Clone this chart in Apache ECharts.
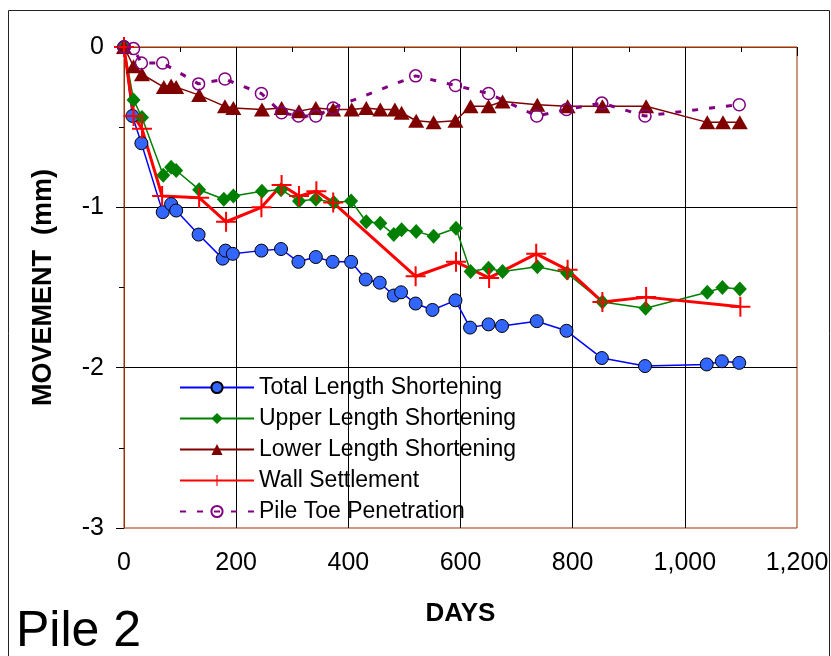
<!DOCTYPE html>
<html>
<head>
<meta charset="utf-8">
<script src="https://cdn.jsdelivr.net/npm/echarts@6/dist/echarts.min.js"></script>
<style>
  html, body { margin: 0; padding: 0; background: #fff; }
  #chart { width: 831px; height: 656px; }
</style>
</head>
<body>
<div id="chart"></div>
<script>
// readings taken off the plot, days vs movement (mm)
var totalDays = [0, 15, 31, 69, 84, 93, 133, 176, 181, 194, 245, 280, 311, 342, 372, 405, 431, 456, 481, 494, 520, 550, 591, 617, 650, 674, 736, 789, 852, 929, 1039, 1066, 1097];
var totalMove = [0, -0.43, -0.60, -1.03, -0.98, -1.02, -1.17, -1.32, -1.27, -1.29, -1.27, -1.26, -1.34, -1.31, -1.34, -1.34, -1.45, -1.47, -1.55, -1.53, -1.60, -1.64, -1.58, -1.75, -1.73, -1.74, -1.71, -1.77, -1.94, -1.99, -1.98, -1.96, -1.97];

var upperDays = [0, 17, 32, 70, 84, 93, 134, 178, 195, 246, 280, 312, 342, 374, 405, 432, 457, 481, 495, 521, 552, 592, 618, 650, 675, 737, 790, 853, 930, 1040, 1067, 1098];
var upperMove = [0, -0.33, -0.44, -0.80, -0.75, -0.77, -0.89, -0.95, -0.93, -0.90, -0.89, -0.96, -0.95, -0.97, -0.96, -1.09, -1.10, -1.17, -1.14, -1.15, -1.18, -1.13, -1.40, -1.38, -1.40, -1.37, -1.41, -1.59, -1.63, -1.53, -1.50, -1.51];

var lowerDays = [0, 17, 32, 71, 84, 93, 134, 180, 195, 246, 281, 312, 342, 373, 406, 432, 457, 483, 495, 521, 552, 591, 618, 650, 675, 737, 791, 853, 931, 1040, 1068, 1098];
var lowerMove = [0, -0.12, -0.17, -0.25, -0.24, -0.25, -0.30, -0.37, -0.38, -0.39, -0.38, -0.40, -0.38, -0.39, -0.39, -0.38, -0.39, -0.39, -0.41, -0.46, -0.47, -0.46, -0.37, -0.37, -0.34, -0.36, -0.37, -0.37, -0.37, -0.47, -0.47, -0.47];

var wallDays = [0, 17, 32, 68, 134, 182, 245, 281, 312, 343, 373, 520, 592, 651, 735, 791, 853, 931, 1099];
var wallMove = [0, -0.43, -0.51, -0.93, -0.94, -1.09, -1.00, -0.86, -0.93, -0.90, -0.97, -1.43, -1.34, -1.44, -1.29, -1.39, -1.59, -1.56, -1.62];

var toeDays = [0, 17, 31, 69, 133, 180, 245, 281, 311, 342, 373, 520, 591, 650, 736, 789, 852, 929, 1097];
var toeMove = [0, -0.01, -0.10, -0.10, -0.23, -0.20, -0.29, -0.41, -0.43, -0.43, -0.38, -0.18, -0.24, -0.29, -0.43, -0.39, -0.35, -0.43, -0.36];

var seriesNames = ['Total Length Shortening', 'Upper Length Shortening', 'Lower Length Shortening', 'Wall Settlement', 'Pile Toe Penetration'];

function pairs(xs, ys) {
  return xs.map(function (x, i) { return [x, ys[i]]; });
}

var FONT = 'Liberation Sans, Arial, sans-serif';
var AXIS_BROWN = '#993300';
var plus = 'path://M9,0h2v9h9v2h-9v9h-2v-9h-9v-2h9z';

var chart = echarts.init(document.getElementById('chart'));

chart.setOption({
  animation: false,
  backgroundColor: '#fff',
  textStyle: { fontFamily: FONT },
  grid: {
    left: 124, right: 34, top: 47, bottom: 128,
    show: true, borderColor: AXIS_BROWN, borderWidth: 1,
    outerBoundsMode: 'none'
  },
  legend: {
    orient: 'vertical',
    left: 179, top: 376, padding: 0,
    itemWidth: 74, itemHeight: 14, itemGap: 8,
    textStyle: { fontFamily: FONT, fontSize: 23, lineHeight: 22, color: '#000' },
    data: seriesNames
  },
  xAxis: {
    type: 'value',
    min: 0, max: 1200, interval: 200,
    name: 'DAYS', nameLocation: 'middle', nameGap: 73,
    nameTextStyle: { fontFamily: FONT, fontSize: 26, fontWeight: 'bold', color: '#000' },
    axisLine: { lineStyle: { color: AXIS_BROWN, width: 1 } },
    axisTick: { show: true, length: 9, lineStyle: { color: '#000' } },
    minorTick: { show: true, splitNumber: 2, length: 5, lineStyle: { color: '#000' } },
    axisLabel: {
      fontFamily: FONT, fontSize: 25, color: '#000', margin: 23,
      formatter: function (v) { return v.toLocaleString('en-US'); }
    },
    splitLine: { show: true, showMinLine: false, showMaxLine: false, lineStyle: { color: '#000', width: 1 } }
  },
  yAxis: {
    type: 'value',
    min: -3, max: 0, interval: 1,
    name: 'MOVEMENT  (mm)', nameLocation: 'middle', nameGap: 67,
    nameTextStyle: { fontFamily: FONT, fontSize: 27, fontWeight: 'bold', color: '#000' },
    axisLine: { show: true, lineStyle: { color: AXIS_BROWN, width: 1 } },
    axisTick: { show: true, length: 8, lineStyle: { color: '#000' } },
    minorTick: { show: true, splitNumber: 2, length: 5, lineStyle: { color: '#000' } },
    axisLabel: { fontFamily: FONT, fontSize: 25, color: '#000', margin: 20 },
    splitLine: { show: true, showMinLine: false, showMaxLine: false, lineStyle: { color: '#000', width: 1 } }
  },
  series: [
    {
      name: seriesNames[0], type: 'line', data: pairs(totalDays, totalMove),
      symbol: 'circle', symbolSize: 13,
      lineStyle: { color: '#0000ff', width: 1.5 },
      itemStyle: { color: '#3366ff', borderColor: '#000', borderWidth: 1 }
    },
    {
      name: seriesNames[1], type: 'line', data: pairs(upperDays, upperMove),
      symbol: 'diamond', symbolSize: [14, 15],
      lineStyle: { color: '#008000', width: 1.5 },
      itemStyle: { color: '#008000' }
    },
    {
      name: seriesNames[2], type: 'line', data: pairs(lowerDays, lowerMove),
      symbol: 'triangle', symbolSize: [16, 14],
      lineStyle: { color: '#800000', width: 1.5 },
      itemStyle: { color: '#800000' }
    },
    {
      name: seriesNames[3], type: 'line', data: pairs(wallDays, wallMove),
      symbol: plus, symbolSize: 20,
      lineStyle: { color: '#ff0000', width: 3 },
      itemStyle: { color: '#ff0000' }
    },
    {
      name: seriesNames[4], type: 'line', data: pairs(toeDays, toeMove),
      symbol: 'circle', symbolSize: 12,
      lineStyle: { color: '#800080', width: 3, type: [6, 11] },
      itemStyle: { color: 'rgba(255,255,255,0)', borderColor: '#800080', borderWidth: 1.5 }
    }
  ],
  graphic: [
    {
      type: 'rect', silent: true, z: -1,
      shape: { x: 8.5, y: 10.5, width: 821, height: 700 },
      style: { fill: null, stroke: '#222', lineWidth: 1 }
    },
    {
      type: 'text', left: 16, top: 607,
      style: { text: 'Pile 2', fontFamily: FONT, fontSize: 50, fill: '#000' }
    }
  ]
});
</script>
</body>
</html>
